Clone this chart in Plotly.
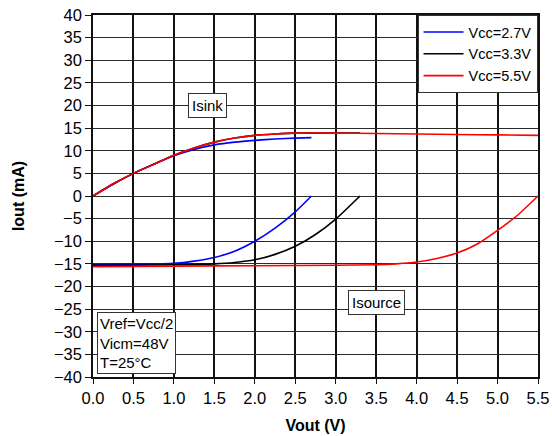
import plotly.graph_objects as go

# Output current vs output voltage, sink and source branches per supply voltage
vout_sink_27 = [0.0, 0.25, 0.5, 0.75, 1.0, 1.25, 1.5, 1.75, 2.0, 2.25, 2.5, 2.7]
iout_sink_27 = [0.0, 2.6, 5.0, 7.0, 8.9, 10.3, 11.3, 11.9, 12.3, 12.6, 12.8, 12.9]
vout_src_27 = [0.0, 0.5, 1.0, 1.25, 1.5, 1.75, 2.0, 2.25, 2.5, 2.7]
iout_src_27 = [-15.2, -15.1, -14.9, -14.4, -13.6, -12.2, -10.0, -7.1, -3.5, 0.0]

vout_sink_33 = [0.0, 0.25, 0.5, 0.75, 1.0, 1.25, 1.5, 1.75, 2.0, 2.25, 2.5, 2.75, 3.0, 3.3]
iout_sink_33 = [0.0, 2.7, 5.0, 7.0, 9.0, 10.6, 11.9, 12.8, 13.4, 13.7, 13.9, 13.9, 13.9, 13.9]
vout_src_33 = [0.0, 0.5, 1.0, 1.5, 1.75, 2.0, 2.25, 2.5, 2.75, 3.0, 3.3]
iout_src_33 = [-15.3, -15.3, -15.2, -15.0, -14.7, -14.1, -12.9, -11.1, -8.5, -5.1, 0.0]

vout_sink_55 = [0.0, 0.25, 0.5, 0.75, 1.0, 1.25, 1.5, 1.75, 2.0, 2.25, 2.5, 3.0, 3.5, 4.0, 4.5, 5.0, 5.5]
iout_sink_55 = [0.0, 2.7, 5.0, 7.0, 9.0, 10.6, 11.9, 12.8, 13.4, 13.7, 13.9, 13.9, 13.8, 13.7, 13.6, 13.5, 13.4]
vout_src_55 = [0.0, 1.0, 2.0, 3.0, 3.5, 3.75, 4.0, 4.25, 4.5, 4.75, 5.0, 5.25, 5.5]
iout_src_55 = [-15.6, -15.5, -15.4, -15.3, -15.2, -15.0, -14.6, -13.8, -12.6, -10.6, -7.6, -4.2, 0.0]

series = [
    ("Vcc=2.7V", "#0000ff", vout_sink_27, iout_sink_27, vout_src_27, iout_src_27),
    ("Vcc=3.3V", "#000000", vout_sink_33, iout_sink_33, vout_src_33, iout_src_33),
    ("Vcc=5.5V", "#ff0000", vout_sink_55, iout_sink_55, vout_src_55, iout_src_55),
]

x_ticks = [0.0, 0.5, 1.0, 1.5, 2.0, 2.5, 3.0, 3.5, 4.0, 4.5, 5.0, 5.5]
x_tick_text = ["0.0", "0.5", "1.0", "1.5", "2.0", "2.5", "3.0", "3.5", "4.0", "4.5", "5.0", "5.5"]
y_ticks = list(range(-40, 45, 5))

font_family = "Liberation Sans, Arial, sans-serif"

fig = go.Figure()
for name, color, xs, ys, xr, yr in series:
    fig.add_trace(go.Scatter(x=xs, y=ys, mode="lines", name=name, legendgroup=name,
                             line=dict(color=color, width=1.6, shape="spline", smoothing=0.6)))
    fig.add_trace(go.Scatter(x=xr, y=yr, mode="lines", name=name, legendgroup=name,
                             showlegend=False,
                             line=dict(color=color, width=1.6, shape="spline", smoothing=0.6)))

box = dict(bordercolor="#333333", borderwidth=1, bgcolor="white",
           font=dict(family=font_family, size=15, color="black"))
fig.add_annotation(x=1.42, y=20.0, text="Isink", showarrow=False, borderpad=3, **box)
fig.add_annotation(x=3.5, y=-23.6, text="Isource", showarrow=False, borderpad=3, **box)
fig.add_annotation(x=0.046, y=-25.7, xanchor="left", yanchor="top",
                   text="Vref=Vcc/2<br>Vicm=48V<br>T=25°C", align="left",
                   showarrow=False, borderpad=2, **box)

fig.update_layout(
    width=552, height=436,
    margin=dict(l=93, r=14, t=15, b=59),
    paper_bgcolor="white", plot_bgcolor="white",
    font=dict(family=font_family, color="black"),
    showlegend=True,
    legend=dict(x=0.999, y=1.0, xanchor="right", yanchor="top",
                bgcolor="white", bordercolor="#333333", borderwidth=1,
                font=dict(family=font_family, size=14.5, color="black"),
                tracegroupgap=0, itemwidth=40),
    xaxis=dict(range=[0, 5.5], tickvals=x_ticks, ticktext=x_tick_text,
               showgrid=True, gridcolor="#111111", gridwidth=1.6,
               showline=True, linecolor="#111111", linewidth=1.6, mirror=True,
               ticks="outside", ticklen=5, tickcolor="#111111",
               tickfont=dict(size=16.5, family=font_family), zeroline=False,
               automargin=False,
               title=dict(text="<b>Vout (V)</b>", font=dict(size=16, family=font_family), standoff=14)),
    yaxis=dict(range=[-40, 40], tickvals=y_ticks,
               showgrid=True, gridcolor="#2a2a2a", gridwidth=1.4,
               showline=True, linecolor="#111111", linewidth=1.6, mirror=True,
               ticks="outside", ticklen=6, tickcolor="#111111",
               tickfont=dict(size=16.5, family=font_family), zeroline=False,
               automargin=False,
               title=dict(text="<b>Iout (mA)</b>", font=dict(size=16, family=font_family), standoff=25)),
)

fig.write_html("out.html")
